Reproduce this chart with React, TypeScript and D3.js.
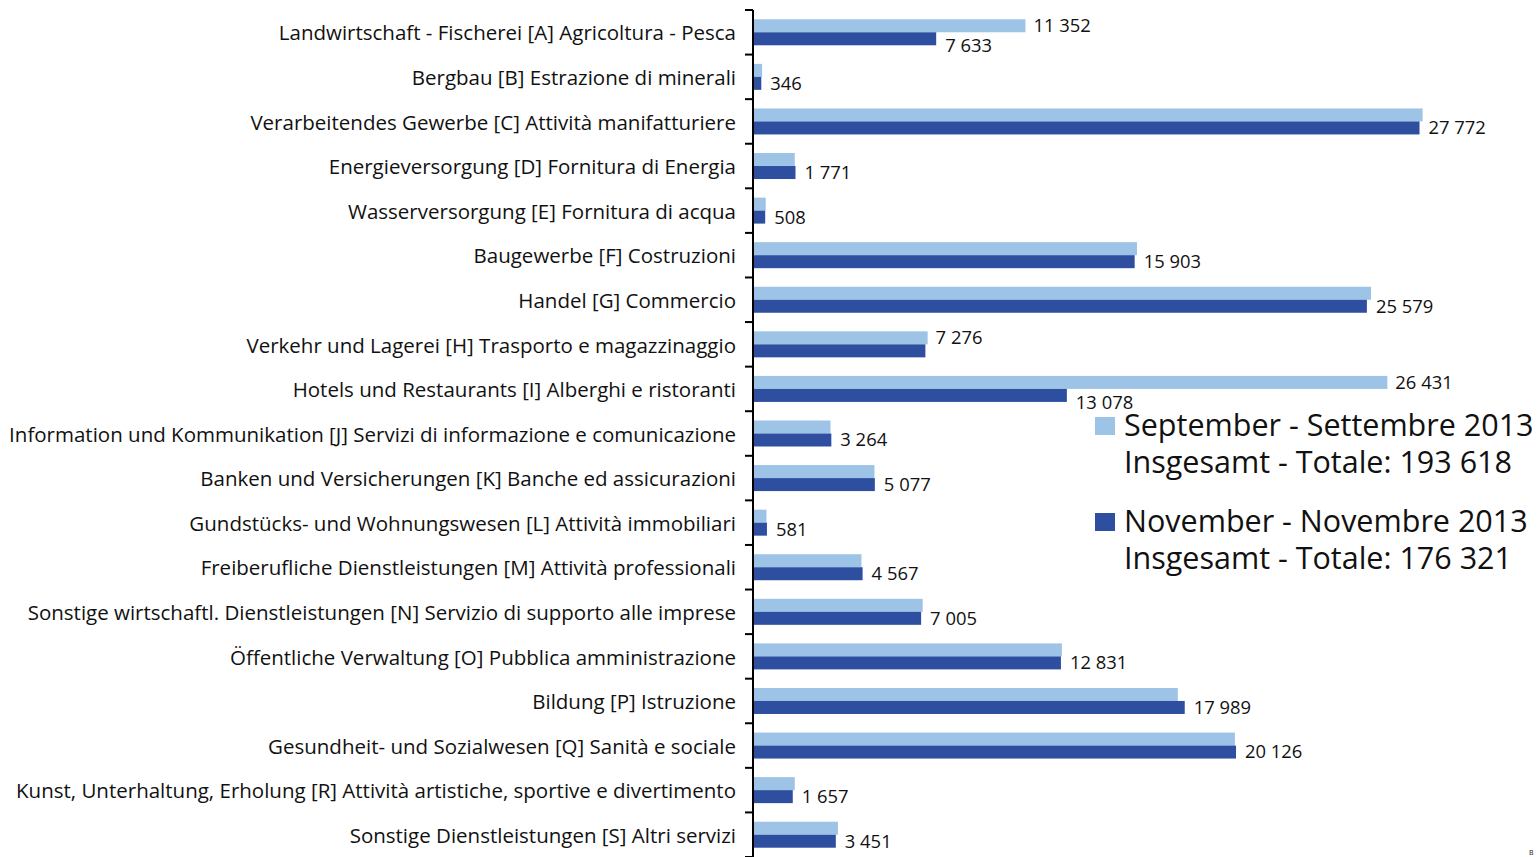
import React, { useEffect, useRef } from 'react';
import * as d3 from 'd3';

const categories = [
  'Landwirtschaft - Fischerei [A] Agricoltura - Pesca',
  'Bergbau [B] Estrazione di minerali',
  'Verarbeitendes Gewerbe [C] Attività manifatturiere',
  'Energieversorgung [D] Fornitura di Energia',
  'Wasserversorgung [E] Fornitura di acqua',
  'Baugewerbe [F] Costruzioni',
  'Handel [G] Commercio',
  'Verkehr und Lagerei [H] Trasporto e magazzinaggio',
  'Hotels und Restaurants [I] Alberghi e ristoranti',
  'Information und Kommunikation [J] Servizi di informazione e comunicazione',
  'Banken und Versicherungen [K] Banche ed assicurazioni',
  'Gundstücks- und Wohnungswesen [L] Attività immobiliari',
  'Freiberufliche Dienstleistungen [M] Attività professionali',
  'Sonstige wirtschaftl. Dienstleistungen [N] Servizio di supporto alle imprese',
  'Öffentliche Verwaltung [O] Pubblica amministrazione',
  'Bildung [P] Istruzione',
  'Gesundheit- und Sozialwesen [Q] Sanità e sociale',
  'Kunst, Unterhaltung, Erholung [R] Attività artistiche, sportive e divertimento',
  'Sonstige Dienstleistungen [S] Altri servizi',
];

// September 2013 (light) — values estimated from bars where no label is printed
const september = [
  11352, 380, 27900, 1740, 530, 16000, 25750, 7276, 26431, 3230,
  5060, 560, 4520, 7070, 12870, 17700, 20080, 1740, 3540,
];

// November 2013 (dark)
const november = [
  7633, 346, 27772, 1771, 508, 15903, 25579, 7183, 13078, 3264,
  5077, 581, 4567, 7005, 12831, 17989, 20126, 1657, 3451,
];

// which series carry a printed value label
const septLabelShown = [true, false, false, false, false, false, false, true, true, false, false, false, false, false, false, false, false, false, false];
const novLabelShown = [true, true, true, true, true, true, true, false, true, true, true, true, true, true, true, true, true, true, true];

const legendItems = [
  { line1: 'September - Settembre 2013', line2: 'Insgesamt - Totale: 193 618', key: 'sep' },
  { line1: 'November - Novembre 2013', line2: 'Insgesamt - Totale: 176 321', key: 'nov' },
];

const W = 1537;
const H = 857;
const LIGHT = '#9dc3e6';
const DARK = '#2e4fa0';
const FONT = '"Open Sans", "DejaVu Sans", sans-serif';

const fmt = (v: number) => d3.format(',')(v).replace(/,/g, ' ');

export default function App() {
  const svgRef = useRef<SVGSVGElement>(null);

  useEffect(() => {
    const svg = d3.select(svgRef.current);
    svg.selectAll('*').remove();

    const x0 = 753;
    const x = d3.scaleLinear().domain([0, 32000]).range([x0, x0 + 768]);
    const y = d3.scaleBand<number>().domain(d3.range(categories.length)).range([10, 857]);
    const step = y.step();
    const barH = 13;

    const rows = svg.selectAll('g.row')
      .data(categories)
      .enter()
      .append('g')
      .attr('class', 'row');

    // category labels
    rows.append('text')
      .attr('x', 736)
      .attr('y', (d, i) => y(i)! + step / 2 + 1)
      .attr('dy', '0.35em')
      .attr('text-anchor', 'end')
      .attr('font-family', FONT)
      .attr('font-size', 20.5)
      .attr('fill', '#111')
      .text(d => d);

    // September bars
    rows.append('rect')
      .attr('x', x0)
      .attr('y', (d, i) => y(i)! + step / 2 - barH)
      .attr('width', (d, i) => x(september[i]) - x0)
      .attr('height', barH)
      .attr('fill', LIGHT);

    // November bars
    rows.append('rect')
      .attr('x', x0)
      .attr('y', (d, i) => y(i)! + step / 2)
      .attr('width', (d, i) => x(november[i]) - x0)
      .attr('height', barH)
      .attr('fill', DARK);

    rows.filter((d, i) => septLabelShown[i])
      .append('text')
      .attr('x', (d) => x(september[categories.indexOf(d)]) + 8)
      .attr('y', (d) => y(categories.indexOf(d))! + step / 2 - barH / 2)
      .attr('dy', '0.35em')
      .attr('font-family', FONT)
      .attr('font-size', 18.4)
      .attr('fill', '#111')
      .text(d => fmt(september[categories.indexOf(d)]));

    rows.filter((d, i) => novLabelShown[i])
      .append('text')
      .attr('x', (d) => x(november[categories.indexOf(d)]) + 9)
      .attr('y', (d) => {
        const i = categories.indexOf(d);
        return y(i)! + step / 2 + barH / 2 + (septLabelShown[i] ? 7 : 0);
      })
      .attr('dy', '0.35em')
      .attr('font-family', FONT)
      .attr('font-size', 18.4)
      .attr('fill', '#111')
      .text(d => fmt(november[categories.indexOf(d)]));

    // axis line and ticks
    svg.append('line')
      .attr('x1', x0).attr('x2', x0)
      .attr('y1', 10).attr('y2', H)
      .attr('stroke', '#000').attr('stroke-width', 2);
    svg.selectAll('line.tick')
      .data(d3.range(categories.length + 1))
      .enter()
      .append('line')
      .attr('x1', x0 - 8).attr('x2', x0)
      .attr('y1', i => 10 + i * step).attr('y2', i => 10 + i * step)
      .attr('stroke', '#000').attr('stroke-width', 2);

    // legend
    const lg = svg.append('g');
    legendItems.forEach((item, k) => {
      const top = 417 + k * 96;
      lg.append('rect')
        .attr('x', 1095).attr('y', top)
        .attr('width', 20).attr('height', 18)
        .attr('fill', item.key === 'sep' ? LIGHT : DARK);
      const t = lg.append('text')
        .attr('font-family', FONT).attr('font-size', 30.5)
        .attr('fill', '#111');
      t.append('tspan').attr('x', 1124).attr('y', top + 19).text(item.line1);
      t.append('tspan').attr('x', 1124).attr('y', top + 56).text(item.line2);
    });

    svg.append('text')
      .attr('x', 1529).attr('y', 855)
      .attr('font-family', FONT).attr('font-size', 7)
      .attr('fill', '#111')
      .text('B');
  }, []);

  return (
    <svg
      ref={svgRef}
      width={W}
      height={H}
      style={{ position: 'absolute', left: 0, top: 0, background: '#fff' }}
    />
  );
}
